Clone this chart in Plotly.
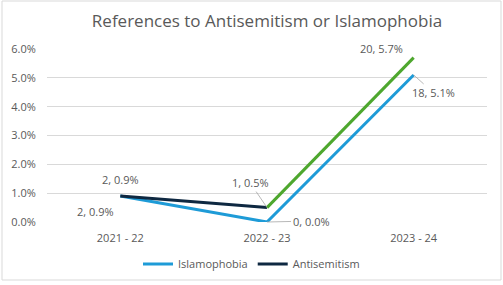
import plotly.graph_objects as go

years = ["2021 - 22", "2022 - 23", "2023 - 24"]
islam_counts = [2, 0, 18]
islam_pct = [0.9, 0.0, 5.1]
anti_counts = [2, 1, 20]
anti_pct = [0.9, 0.5, 5.7]

BLUE = "#1E9BD7"
NAVY = "#0E2841"
GREEN = "#4EA72E"
GREY = "#595959"

fig = go.Figure()
fig.add_trace(go.Scatter(x=years, y=islam_pct, mode="lines", name="Islamophobia",
                         line=dict(color=BLUE, width=3)))
fig.add_trace(go.Scatter(x=years[:2], y=anti_pct[:2], mode="lines", name="Antisemitism",
                         line=dict(color=NAVY, width=3)))
fig.add_trace(go.Scatter(x=years[1:], y=anti_pct[1:], mode="lines", showlegend=False,
                         line=dict(color=GREEN, width=3)))

def lab(c, p):
    return f"{c}, {p:.1f}%"

ann = []
# Antisemitism labels
ann.append(dict(x=years[0], y=anti_pct[0], text=lab(anti_counts[0], anti_pct[0]),
                showarrow=False, yshift=17))
ann.append(dict(x=years[1], y=anti_pct[1], text=lab(anti_counts[1], anti_pct[1]),
                showarrow=True, ax=-17, ay=-25, arrowhead=0, arrowwidth=0.8,
                arrowcolor="#A6A6A6", standoff=0))
ann.append(dict(x=years[2], y=anti_pct[2], text=lab(anti_counts[2], anti_pct[2]),
                showarrow=False, xshift=-32, yshift=9))
# Islamophobia labels
ann.append(dict(x=years[0], y=islam_pct[0], text=lab(islam_counts[0], islam_pct[0]),
                showarrow=False, xshift=-25, yshift=-15))
ann.append(dict(x=years[1], y=islam_pct[1], text=lab(islam_counts[1], islam_pct[1]),
                showarrow=True, ax=44, ay=-1, arrowhead=0, arrowwidth=0.8,
                arrowcolor="#A6A6A6", standoff=0))
ann.append(dict(x=years[2], y=islam_pct[2], text=lab(islam_counts[2], islam_pct[2]),
                showarrow=True, ax=20, ay=18, arrowhead=0, arrowwidth=0.8,
                arrowcolor="#A6A6A6", standoff=0))
for a in ann:
    a.update(xref="x", yref="y", font=dict(family="Open Sans", size=11, color=GREY))

fig.update_layout(
    width=503, height=285,
    margin=dict(l=47, r=16, t=49, b=63, autoexpand=False),
    paper_bgcolor="white", plot_bgcolor="white",
    font=dict(family="Open Sans", size=11, color=GREY),
    title=dict(text="References to Antisemitism or Islamophobia", x=0.5, xanchor="center",
               xref="paper", y=1 - 21/285, yref="container", yanchor="middle",
               font=dict(family="Open Sans", size=17, color=GREY)),
    showlegend=True,
    legend=dict(orientation="h", x=0.5, xanchor="center", xref="container",
                y=21/285, yref="container", yanchor="middle",
                font=dict(size=11, color=GREY), itemwidth=30, tracegroupgap=0),
    annotations=ann,
    xaxis=dict(type="category", range=[-0.5, 2.5], showgrid=False, showline=False,
               ticks="outside", ticklen=6, tickcolor="rgba(0,0,0,0)",
               tickfont=dict(size=11, color=GREY), fixedrange=True, automargin=False),
    yaxis=dict(range=[0, 6], dtick=1, tickformat=".1f", ticksuffix="%",
               showgrid=True, gridcolor="#D9D9D9", gridwidth=1, zeroline=False,
               showline=False, ticks="outside", ticklen=8, tickcolor="rgba(0,0,0,0)",
               tickfont=dict(size=11, color=GREY), automargin=False),
    shapes=[dict(type="rect", xref="paper", yref="paper",
                 x0=-45/440, x1=(503-47-2)/440, y0=-(63-5)/173, y1=(173+48)/173,
                 line=dict(color="#D9D9D9", width=1), fillcolor="rgba(0,0,0,0)", layer="below")],
)

fig.write_html("out.html")
